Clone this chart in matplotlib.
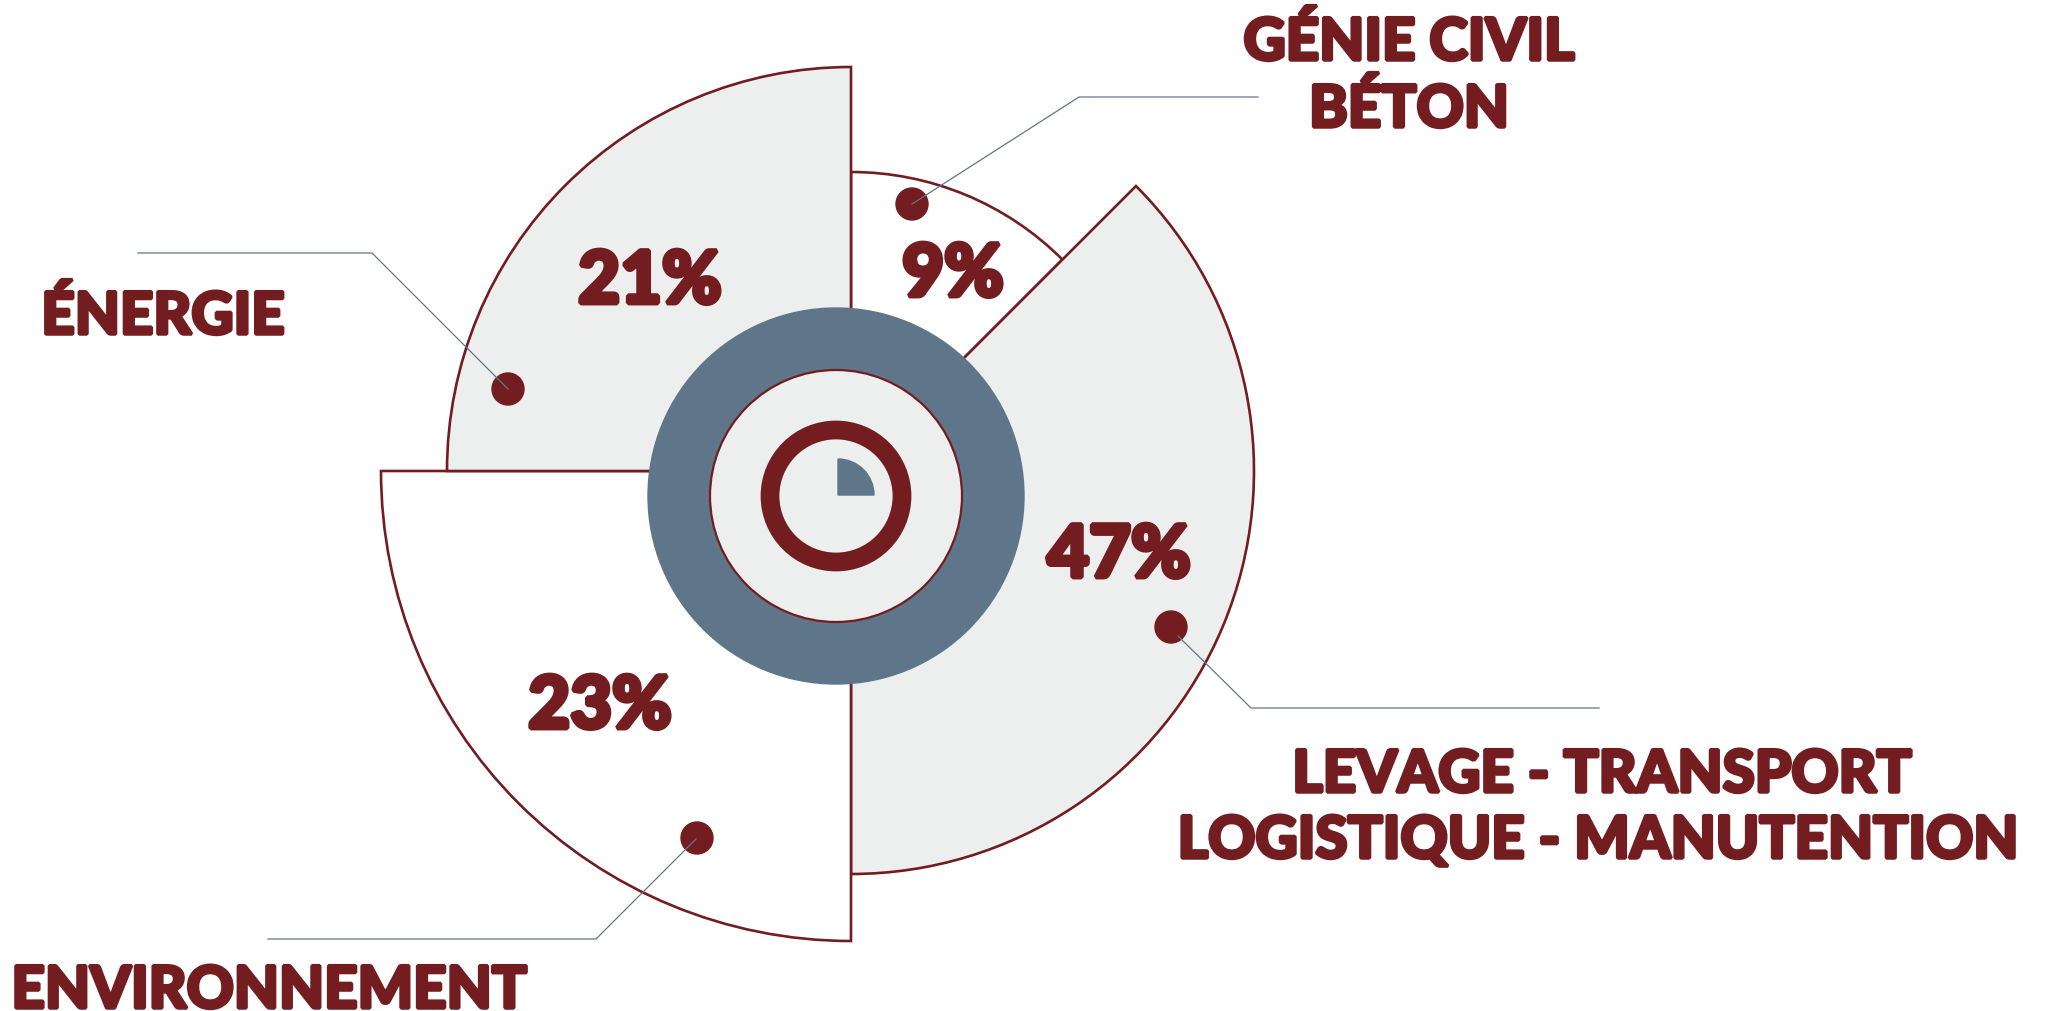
import matplotlib
matplotlib.use("Agg")
import matplotlib.pyplot as plt
from matplotlib.patches import Circle, Wedge
import matplotlib.patheffects as pe

# sectors, clockwise from 12 o'clock
percents = ["9%", "47%", "23%", "21%"]
sector_start = [0, 45, 180, 270]
sector_end = [45, 180, 270, 360]
sector_radius = [299, 403, 470, 404]
sector_fill = ["#ffffff", "#edefee", "#ffffff", "#edefee"]
percent_x = [953, 1119, 600, 650]
percent_y = [296, 577, 728, 303]

labels = ["GÉNIE CIVIL", "BÉTON", "LEVAGE - TRANSPORT", "LOGISTIQUE - MANUTENTION", "ENVIRONNEMENT", "ÉNERGIE"]
label_x = [1409, 1409, 1602, 1598, 269, 163]
label_y = [60, 127, 792, 858, 1008, 334]

dot_x = [912, 1171, 697, 508]
dot_y = [204, 627, 838, 389]
leader_x = [[912, 1079, 1258], [1178, 1251, 1599], [696, 596, 268], [508, 372, 138]]
leader_y = [[204, 97, 97], [636, 708, 708], [839, 939, 939], [389, 253, 253]]

MAROON = "#731d20"
BLUE = "#5f768a"
GRAY = "#edefee"


def heavy(stroke):
    return dict(family="Lato", weight="black", color=MAROON, ha="center", va="baseline",
                path_effects=[pe.withStroke(linewidth=stroke, foreground=MAROON, joinstyle="bevel")])


fig = plt.figure(figsize=(20.5, 10.11), dpi=100)
ax = fig.add_axes([0, 0, 1, 1])
ax.set_xlim(0, 2050)
ax.set_ylim(1011, 0)
ax.axis("off")

for start, end, r, fill in zip(sector_start, sector_end, sector_radius, sector_fill):
    ax.add_patch(Wedge((851, 471), r, start - 90, end - 90, facecolor=fill,
                       edgecolor=MAROON, linewidth=1.9, zorder=2))

# hub
ax.add_patch(Circle((836, 496), 188, color=BLUE, zorder=3))
ax.add_patch(Circle((836, 496), 126, facecolor=GRAY, edgecolor=MAROON, linewidth=1.6, zorder=4))
ax.add_patch(Circle((836, 496), 66, facecolor="none", edgecolor=MAROON, linewidth=13.5, zorder=5))
ax.add_patch(Wedge((838, 495), 36, -90, 0, color=BLUE, zorder=5))

for x, y in zip(dot_x, dot_y):
    ax.add_patch(Circle((x, y), 16, color=MAROON, zorder=6))
for xs, ys in zip(leader_x, leader_y):
    ax.plot(xs, ys, color=BLUE, linewidth=0.9, zorder=7, solid_joinstyle="miter")

for text, x, y in zip(percents, percent_x, percent_y):
    ax.text(x, y, text, fontsize=52, zorder=8, **heavy(3.5))
for text, x, y in zip(labels, label_x, label_y):
    ax.text(x, y, text, fontsize=42, zorder=8, **heavy(2.5))

fig.savefig("out.png", dpi=100)
